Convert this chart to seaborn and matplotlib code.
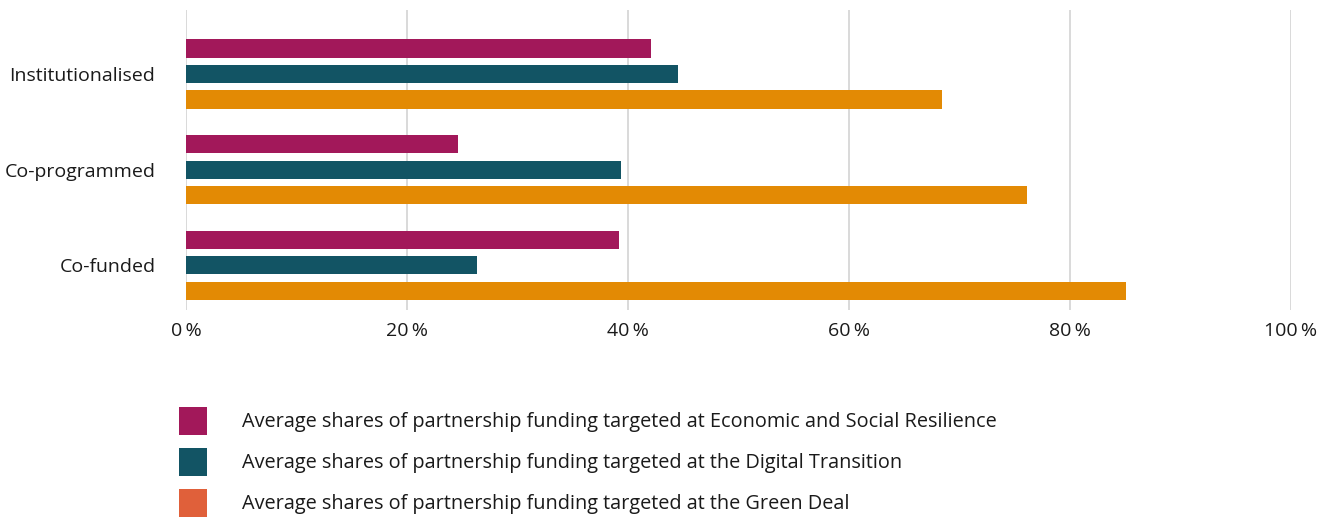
import pandas as pd
import matplotlib.pyplot as plt
import seaborn as sns
from matplotlib.patches import Patch
from matplotlib.ticker import FuncFormatter

# Data (percent)
categories = ['Institutionalised', 'Co-programmed', 'Co-funded']
series = [
    'Average shares of partnership funding targeted at Economic and Social Resilience',
    'Average shares of partnership funding targeted at the Digital Transition',
    'Average shares of partnership funding targeted at the Green Deal',
]
resilience = [42.1, 24.6, 39.2]
digital = [44.5, 39.4, 26.3]
green_deal = [68.4, 76.1, 85.1]

bar_colors = ['#A2185A', '#125464', '#E38A04']
legend_colors = ['#A2185A', '#125464', '#E0603A']

# Long-form table for seaborn
rows = []
for name, values in zip(series, [resilience, digital, green_deal]):
    for cat, v in zip(categories, values):
        rows.append({'category': cat, 'series': name, 'value': v})
df = pd.DataFrame(rows)

sns.set_style('white')
plt.rcParams['font.family'] = ['Open Sans', 'DejaVu Sans']

fig = plt.figure(figsize=(13.33, 5.2), dpi=100)
ax = fig.add_axes([186 / 1333, 1 - 310 / 520, (1291 - 186) / 1333, 300 / 520])

sns.barplot(data=df, x='value', y='category', hue='series', order=categories,
            hue_order=series, palette=bar_colors, orient='h', width=0.8,
            gap=0.29, saturation=1, legend=False, linewidth=0, ax=ax)

ax.set_xlim(0, 100)
ax.set_ylim(2.47, -0.67)
ax.set_xticks(range(0, 101, 20))
ax.xaxis.set_major_formatter(FuncFormatter(lambda v, p: f'{v:.0f}\u2009%'))
ax.grid(axis='x', color='#D3D3D3', linewidth=1.2)
ax.set_axisbelow(True)
for s in ax.spines.values():
    s.set_visible(False)
ax.tick_params(axis='both', length=0, labelsize=14, colors='#1a1a1a')
ax.tick_params(axis='y', pad=22)
ax.tick_params(axis='x', pad=9)
ax.set_xlabel('')
ax.set_ylabel('')

handles = [Patch(facecolor=c, edgecolor='none') for c in legend_colors]
fig.legend(handles, series, loc='upper left', bbox_to_anchor=(179 / 1333, 1 - 407 / 520),
           frameon=False, fontsize=14.3, handlelength=1.41, handleheight=1.79,
           handletextpad=1.76, labelspacing=0.65, borderpad=0, borderaxespad=0,
           labelcolor='#1a1a1a')

fig.savefig('out.png', dpi=100)
